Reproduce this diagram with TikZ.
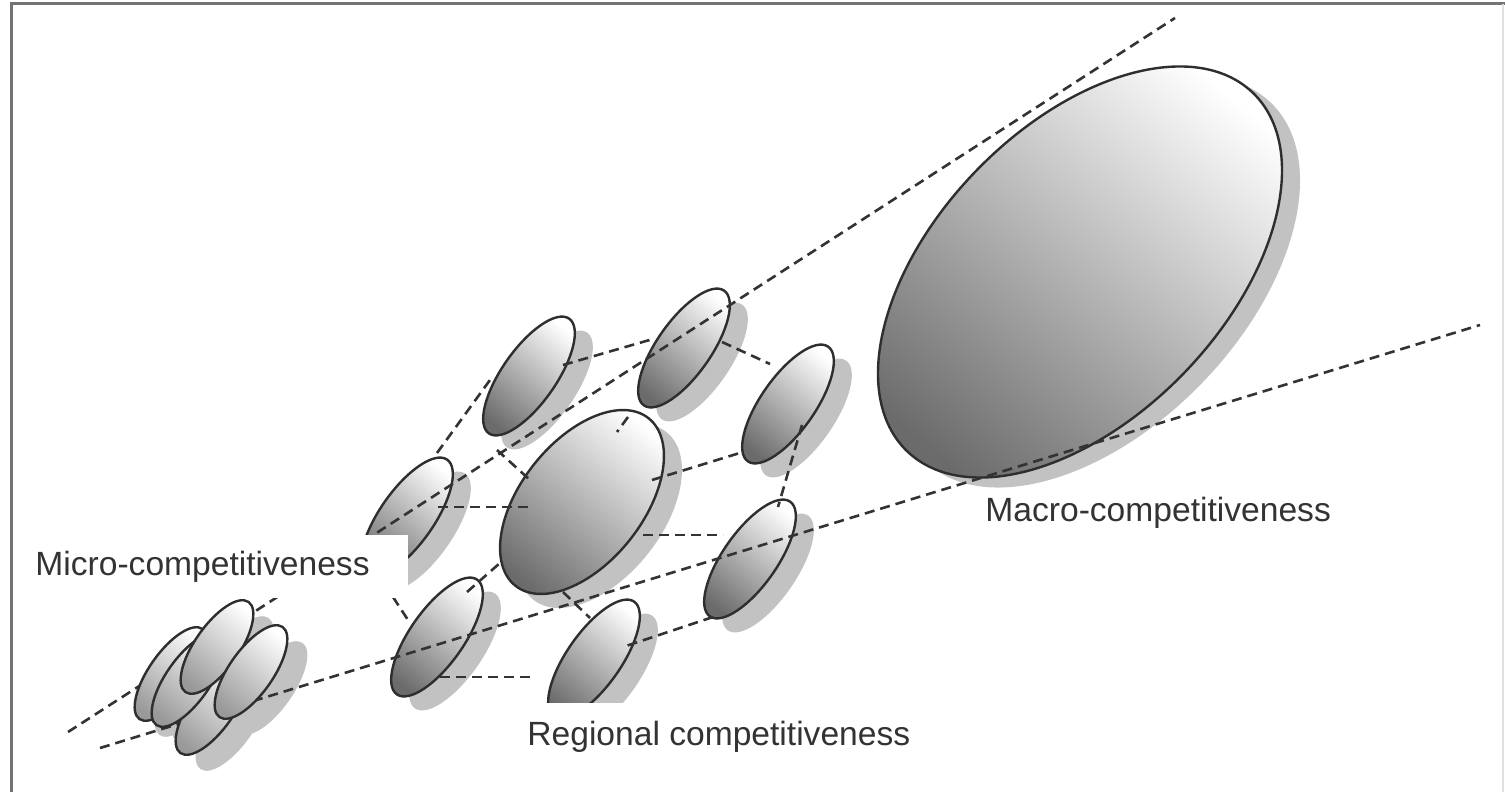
\documentclass[tikz,border=0pt]{standalone}
\usepackage{fontspec}
\setmainfont{Liberation Sans}
\newcommand\mydisc[6]{\path[#6, shift={(#1,#2)}, rotate=#5] (0,0) ellipse [x radius=#3, y radius=#4];}
\begin{document}
\begin{tikzpicture}[x=0.5pt,y=-0.5pt,
  outline/.style={draw=black!82, line width=1.2pt},
  shadowfill/.style={fill=black!24},
  bigshade/.style={top color=white, bottom color=black!58, shading angle=-40},
  microshade/.style={top color=white, bottom color=black!40, shading angle=-40},
  dline/.style={draw=black!80, line width=1.3pt, dash pattern=on 5pt off 3pt},
  lbl/.style={font=\fontsize{16.8}{20}\selectfont, text=black!80, inner sep=0pt, anchor=base west}
]
\useasboundingbox (0,0) rectangle (1505,792);
\fill[white] (0,0) rectangle (1505,792);
% frame
\draw[black!55, line width=1.5pt] (11,800) -- (11,4) -- (1510,4);
\draw[black!12, line width=1pt] (1503,4) -- (1503,800);

% ---- shadows ----
\mydisc{1080+18}{272+10}{249}{145}{46}{shadowfill}
\mydisc{582+18}{502+14}{107}{61}{51.5}{shadowfill}
\foreach \cx/\cy in {529/376, 684/348, 788/404, 750/559, 437/637, 594/659, 407/517}
  {\mydisc{\cx+18}{\cy+14}{70}{27}{55}{shadowfill}}
\foreach \cx/\cy in {212/708, 171/674, 188/680, 217/647, 251/672}
  {\mydisc{\cx+20}{\cy+16}{55}{22}{55}{shadowfill}}

% ---- macro and regional discs ----
\mydisc{1080}{272}{249}{145}{46}{bigshade,outline}
\foreach \cx/\cy in {529/376, 684/348, 788/404, 750/559, 437/637, 594/659, 407/517}
  {\mydisc{\cx}{\cy}{70}{27}{55}{bigshade,outline}}
\mydisc{582}{502}{107}{61}{51.5}{bigshade,outline}

% ---- dashed lines ----
\coordinate (u0) at (68,732);   \coordinate (u1) at (1175,18);
\coordinate (l0) at (100,748);  \coordinate (l1) at (1480,325);
\draw[dline] (u0) -- (u1);
\draw[dline] (l0) -- (l1);
% outline of regional cluster
\coordinate (h1a) at (437,453); \coordinate (h1b) at (490,380);
\coordinate (h2a) at (563,365); \coordinate (h2b) at (653,339);
\coordinate (h3a) at (722,342); \coordinate (h3b) at (770,364);
\coordinate (h4a) at (802,425); \coordinate (h4b) at (778,507);
\coordinate (h5a) at (713,617); \coordinate (h5b) at (623,647);
\coordinate (h6a) at (440,677); \coordinate (h6b) at (532,677);
\coordinate (h7a) at (393,597); \coordinate (h7b) at (408,620);
\draw[dline] (h1a) -- (h1b);
\draw[dline] (h2a) -- (h2b);
\draw[dline] (h3a) -- (h3b);
\draw[dline] (h4a) -- (h4b);
\draw[dline] (h5a) -- (h5b);
\draw[dline] (h6a) -- (h6b);
\draw[dline] (h7a) -- (h7b);
% spokes to the central disc
\coordinate (c1a) at (438,507); \coordinate (c1b) at (532,507);
\coordinate (c2a) at (497,450); \coordinate (c2b) at (530,480);
\coordinate (c3a) at (628,417); \coordinate (c3b) at (617,432);
\coordinate (c4a) at (652,480); \coordinate (c4b) at (743,452);
\coordinate (c5a) at (643,535); \coordinate (c5b) at (723,535);
\coordinate (c6a) at (563,592); \coordinate (c6b) at (590,618);
\coordinate (c7a) at (467,592); \coordinate (c7b) at (500,563);
\draw[dline] (c1a) -- (c1b);
\draw[dline] (c2a) -- (c2b);
\draw[dline] (c3a) -- (c3b);
\draw[dline] (c4a) -- (c4b);
\draw[dline] (c5a) -- (c5b);
\draw[dline] (c6a) -- (c6b);
\draw[dline] (c7a) -- (c7b);

% ---- micro discs ----
\foreach \cx/\cy in {212/708, 171/674, 188/680, 217/647, 251/672}
  {\mydisc{\cx}{\cy}{55}{22}{55}{microshade,outline}}

% ---- labels ----
\fill[white] (25,535) rectangle (408,598);
\fill[white] (515,703) rectangle (925,765);
\node[lbl] (micro) at (35,575) {Micro-competitiveness};
\node[lbl] (macro) at (985,521) {Macro-competitiveness};
\node[lbl] (regional) at (527,745) {Regional competitiveness};
\end{tikzpicture}
\end{document}
